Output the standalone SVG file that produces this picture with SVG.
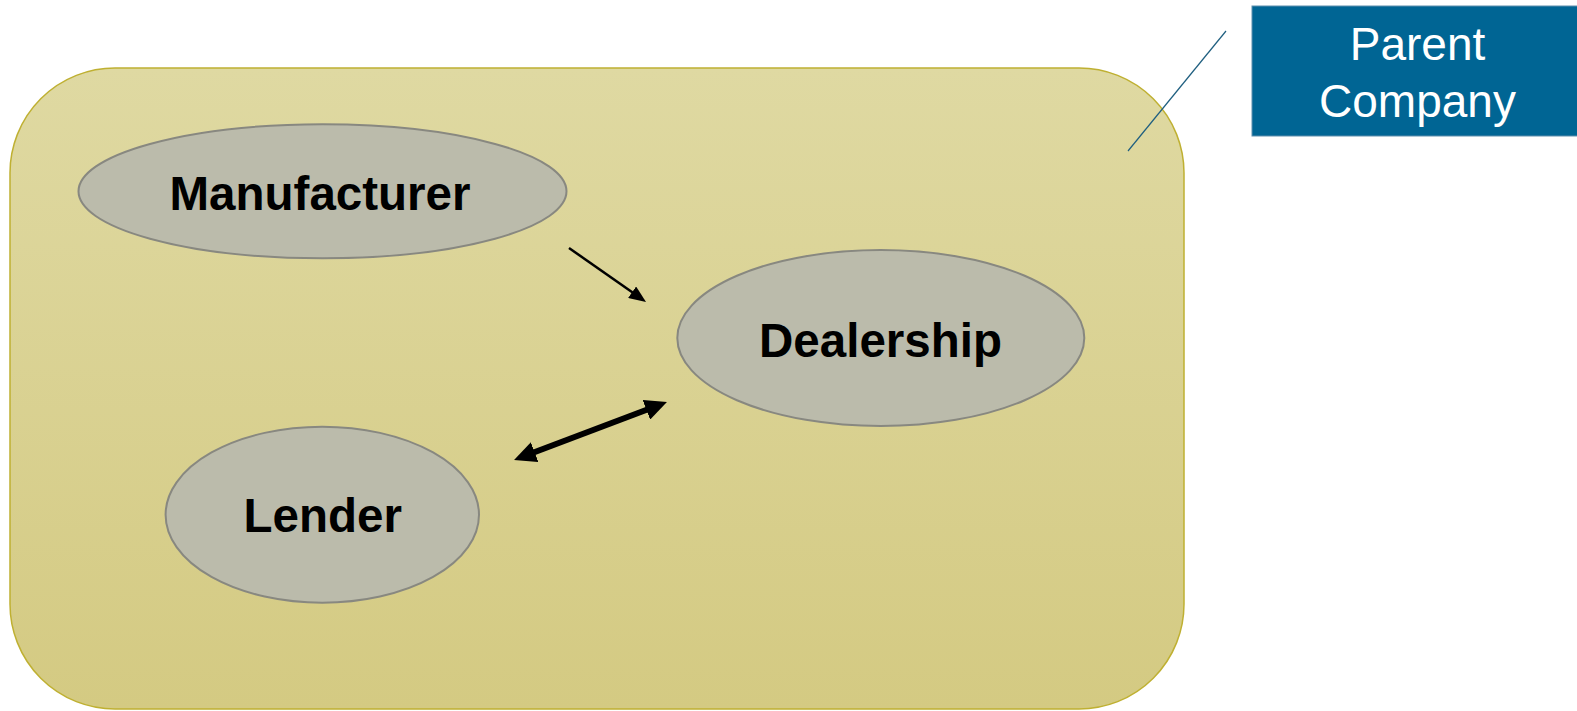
<svg xmlns="http://www.w3.org/2000/svg" width="1577" height="711" viewBox="0 0 1577 711">
  <defs>
    <linearGradient id="bg" x1="0" y1="0" x2="0" y2="1">
      <stop offset="0" stop-color="#DFD9A2"/>
      <stop offset="1" stop-color="#D4CA82"/>
    </linearGradient>
    <marker id="headSmall" markerUnits="userSpaceOnUse" markerWidth="17" markerHeight="14" refX="5" refY="7" orient="auto-start-reverse" viewBox="0 0 17 14">
      <path d="M0,0 L17,7 L0,14 z" fill="#000"/>
    </marker>
    <marker id="headBig" markerUnits="userSpaceOnUse" markerWidth="22" markerHeight="21" refX="6" refY="10.5" orient="auto-start-reverse" viewBox="0 0 22 21">
      <path d="M0,0 L22,10.5 L0,21 z" fill="#000"/>
    </marker>
    <style>
      .node ellipse { fill: #BBBBAB; stroke: #888880; stroke-width: 2; }
      .label { font-family: "Liberation Sans", Arial, sans-serif; font-weight: bold; font-size: 47.5px; fill: #000; text-anchor: middle; }
      .callout { font-family: "Liberation Sans", Arial, sans-serif; font-size: 46px; fill: #FFFFFF; text-anchor: middle; }
    </style>
  </defs>

  <g id="parent-company-area">
    <rect x="10" y="68" width="1174" height="641" rx="105" ry="105" fill="url(#bg)" stroke="#BFB032" stroke-width="1.5"/>
  </g>

  <g id="manufacturer" class="node">
    <ellipse cx="322.5" cy="191.3" rx="244" ry="67"/>
    <text class="label" x="320" y="210">Manufacturer</text>
  </g>

  <g id="dealership" class="node">
    <ellipse cx="880.8" cy="338" rx="203.5" ry="88"/>
    <text class="label" x="880.5" y="356.7">Dealership</text>
  </g>

  <g id="lender" class="node">
    <ellipse cx="322.3" cy="514.7" rx="156.7" ry="88"/>
    <text class="label" x="322.8" y="532.3">Lender</text>
  </g>

  <g id="connectors">
    <line x1="569" y1="248" x2="636.2" y2="295.1" stroke="#000" stroke-width="2.5" marker-end="url(#headSmall)"/>
    <line x1="529" y1="454.3" x2="652" y2="407.7" stroke="#000" stroke-width="6" marker-start="url(#headBig)" marker-end="url(#headBig)"/>
    <line x1="1226" y1="31" x2="1128" y2="151" stroke="#1F5F80" stroke-width="1.2"/>
  </g>

  <g id="parent-company">
    <rect x="1252" y="6" width="330" height="130" fill="#006594" stroke="#5E8FAD" stroke-width="1"/>
    <text class="callout" x="1417.5" y="60">Parent</text>
    <text class="callout" x="1417.5" y="116.7">Company</text>
  </g>
</svg>
